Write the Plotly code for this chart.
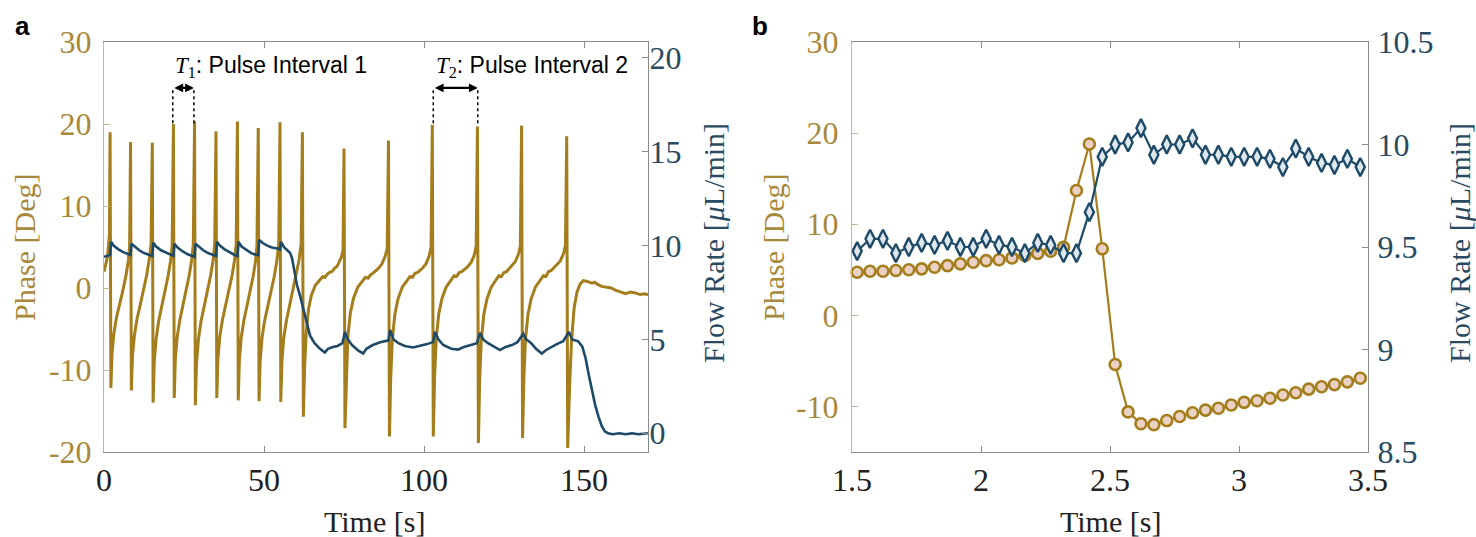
import plotly.graph_objects as go

# ---------------- Panel a data ----------------
time_a_phase = [
    0.0, 0.4, 0.8, 1.2, 1.5, 1.7, 1.9, 2.15,
    2.5, 3.1, 3.9, 4.9, 5.9, 6.9, 7.6, 8.0, 8.3, 8.55,
    8.9, 9.5, 10.3, 11.3, 12.3, 13.3, 14.1, 14.7, 15.1, 15.35,
    15.7, 16.3, 17.1, 18.1, 19.1, 20.0, 20.8, 21.3, 21.7, 21.95,
    22.3, 22.9, 23.7, 24.7, 25.7, 26.6, 27.4, 27.9, 28.3, 28.55,
    28.9, 29.5, 30.3, 31.3, 32.3, 33.3, 34.1, 34.6, 35.0, 35.25,
    35.6, 36.2, 37.0, 38.0, 39.0, 40.0, 40.8, 41.3, 41.7, 41.95,
    42.3, 42.9, 43.7, 44.7, 45.7, 46.6, 47.4, 47.8, 48.2, 48.45,
    48.8, 49.4, 50.2, 51.2, 52.2, 53.2, 54.0, 54.6, 55.0, 55.25,
    55.6, 56.2, 57.0, 58.0, 59.0, 60.0, 60.9, 61.6, 62.0, 62.3,
    62.7, 63.2, 63.9, 64.8, 66.0, 67.5, 68.4, 69.0, 69.8, 70.5, 71.3, 72.0, 72.7, 73.3, 74.2, 74.7, 75.0, 75.3,
    75.7, 76.2, 77.0, 78.0, 79.3, 80.8, 81.7, 82.5, 83.3, 84.0, 85.5, 86.8, 87.8, 88.5, 88.9, 89.2,
    89.6, 90.1, 90.9, 91.9, 93.2, 94.7, 95.6, 96.4, 97.2, 98.0, 99.5, 100.7, 101.6, 102.2, 102.6, 102.9,
    103.3, 103.8, 104.6, 105.6, 106.9, 108.5, 109.4, 110.2, 111.0, 111.8, 113.4, 114.7, 115.7, 116.3, 116.7, 117.0,
    117.4, 117.9, 118.7, 119.7, 121.0, 122.5, 123.4, 124.2, 125.0, 125.8, 127.3, 128.5, 129.5, 130.1, 130.5, 130.8,
    131.2, 131.7, 132.5, 133.5, 134.8, 136.4, 137.3, 138.1, 138.9, 139.7, 141.3, 142.6, 143.6, 144.2, 144.6, 144.9,
    145.5, 146.1, 146.9, 147.8, 148.8, 149.8, 151.0, 152.5, 153.3, 154.0, 155.5, 157.0, 158.5, 160.0, 161.5,
    163.0, 164.5, 166.0, 167.5, 169.0, 170.0,
]
phase_a = [
    2.0, 2.6, 3.3, 4.2, 5.2, 6.5, 19.0, -12.2,
    -8.0, -5.5, -3.6, -2.0, -0.3, 1.6, 3.3, 5.0, 17.8, -12.5,
    -8.2, -5.8, -3.8, -2.1, -0.4, 1.5, 3.4, 5.3, 17.7, -14.0,
    -9.0, -6.2, -4.0, -2.2, -0.5, 1.4, 3.3, 5.2, 20.0, -13.4,
    -8.6, -5.9, -3.9, -2.1, -0.4, 1.5, 3.4, 5.3, 20.3, -14.3,
    -9.2, -6.3, -4.1, -2.3, -0.5, 1.5, 3.4, 5.4, 19.1, -13.4,
    -8.6, -5.9, -3.9, -2.1, -0.4, 1.5, 3.4, 5.3, 20.3, -13.7,
    -8.8, -6.0, -4.0, -2.2, -0.5, 1.4, 3.4, 5.2, 19.5, -13.8,
    -8.9, -6.0, -4.0, -2.2, -0.5, 1.4, 3.3, 5.3, 20.2, -13.9,
    -8.9, -6.0, -4.0, -2.2, -0.5, 1.3, 3.3, 5.4, 19.0, -15.7,
    -9.5, -5.5, -2.6, -0.9, 0.3, 1.0, 1.4, 1.3, 1.7, 1.9, 2.0, 2.4, 2.6, 3.0, 3.8, 4.6, 17.0, -17.1,
    -10.5, -6.0, -3.0, -1.2, 0.1, 0.9, 1.3, 1.2, 1.6, 1.8, 2.3, 2.9, 3.8, 4.8, 18.0, -18.1,
    -11.0, -6.3, -3.2, -1.3, 0.1, 0.9, 1.4, 1.3, 1.8, 1.9, 2.4, 3.0, 3.9, 5.0, 19.9, -18.1,
    -11.0, -6.3, -3.2, -1.3, 0.1, 1.0, 1.5, 1.4, 1.9, 2.0, 2.5, 3.1, 4.0, 5.1, 19.7, -18.9,
    -11.2, -6.4, -3.2, -1.3, 0.1, 1.0, 1.5, 1.4, 1.9, 2.0, 2.6, 3.2, 4.1, 5.1, 19.8, -18.3,
    -11.0, -6.3, -3.2, -1.3, 0.1, 1.0, 1.5, 1.4, 2.0, 2.1, 2.7, 3.3, 4.2, 5.2, 18.5, -19.5,
    -12.0, -6.5, -2.5, -0.5, 0.5, 0.9, 0.8, 0.6, 0.7, 0.5, 0.2, 0.1, 0.0, -0.3, -0.5,
    -0.7, -0.5, -0.6, -0.8, -0.7, -0.85,
]

time_a_flow = [
    0.0, 1.0, 1.9, 2.2, 3.0, 4.5, 6.0, 7.5,
    8.3, 8.6, 9.5, 11.0, 12.5, 14.2,
    15.1, 15.4, 16.3, 17.8, 19.5, 21.0,
    21.7, 22.0, 23.0, 24.5, 26.0, 27.6,
    28.3, 28.6, 29.5, 31.0, 32.5, 34.2,
    35.0, 35.3, 36.2, 37.7, 39.2, 40.8,
    41.7, 42.0, 43.0, 44.5, 46.0, 47.5,
    48.2, 48.5, 49.5, 51.0, 52.5, 54.2,
    55.0, 55.3, 56.3, 57.3, 58.2, 58.8, 59.5, 60.3, 61.3, 62.3, 63.3, 64.4, 65.8, 67.5, 69.0,
    70.0, 71.5, 73.0, 74.5, 75.3, 76.2, 77.5, 79.5, 81.0, 82.0, 84.0, 86.3, 88.9,
    89.4, 90.5, 92.0, 94.0, 96.6, 99.0, 101.0, 102.9,
    103.4, 104.5, 106.0, 108.5, 110.7, 112.5, 114.5, 116.5,
    117.5, 118.5, 120.0, 122.0, 123.75, 125.5, 127.5, 129.2,
    131.0, 132.0, 133.5, 135.0, 136.8, 138.3, 139.8, 141.5, 143.5,
    145.3, 146.3, 148.2, 149.5, 150.5, 151.5, 152.5, 153.5, 154.5, 155.5, 156.5, 157.5,
    159.0, 161.0, 163.0, 165.0, 167.0, 170.0,
]
flow_a = [
    9.4, 9.45, 9.5, 10.2, 10.0, 9.8, 9.65, 9.55,
    9.5, 10.1, 9.95, 9.75, 9.6, 9.5,
    9.45, 10.15, 9.95, 9.75, 9.6, 9.5,
    9.45, 10.1, 9.9, 9.7, 9.55, 9.45,
    9.4, 10.1, 9.95, 9.75, 9.6, 9.5,
    9.45, 10.2, 10.0, 9.8, 9.65, 9.5,
    9.45, 10.2, 9.95, 9.75, 9.6, 9.5,
    9.5, 10.3, 10.15, 10.0, 9.9, 9.85,
    9.8, 10.2, 9.9, 9.75, 9.6, 9.3, 8.6, 7.9, 7.3, 6.6, 5.9, 5.2, 4.8, 4.5, 4.3,
    4.5, 4.6, 4.65, 4.8, 5.4, 5.0, 4.7, 4.4, 4.25, 4.5, 4.7, 4.85, 4.95,
    5.5, 5.0, 4.8, 4.65, 4.57, 4.65, 4.75, 4.87,
    5.4, 5.0, 4.7, 4.5, 4.46, 4.6, 4.7, 4.8,
    5.35, 5.0, 4.8, 4.6, 4.43, 4.6, 4.7, 4.85,
    5.3, 5.0, 4.8, 4.5, 4.25, 4.45, 4.6, 4.75, 4.9,
    5.4, 5.0, 4.9, 4.6, 4.0, 3.1, 2.3, 1.5, 0.9, 0.4, 0.1, 0.0,
    -0.05, 0.0, -0.05, 0.0, -0.05, 0.0,
]

# ---------------- Panel b data ----------------
time_b = [
    1.52, 1.57, 1.62, 1.67, 1.72, 1.77, 1.82, 1.87, 1.92, 1.97,
    2.02, 2.07, 2.12, 2.17, 2.22, 2.27, 2.32, 2.37, 2.42, 2.47,
    2.52, 2.57, 2.62, 2.67, 2.72, 2.77, 2.82, 2.87, 2.92, 2.97,
    3.02, 3.07, 3.12, 3.17, 3.22, 3.27, 3.32, 3.37, 3.42, 3.47,
]
phase_b = [
    4.73, 4.84, 4.84, 4.92, 5.0, 5.1, 5.28, 5.46, 5.65, 5.83,
    6.0, 6.1, 6.3, 6.56, 6.8, 7.03, 7.46, 13.7, 18.8, 7.3,
    -5.4, -10.6, -11.9, -12.0, -11.55, -11.1, -10.7, -10.4, -10.2, -9.84,
    -9.55, -9.37, -9.1, -8.74, -8.5, -8.1, -7.84, -7.6, -7.3, -6.9,
]
flow_b = [
    9.48, 9.54, 9.54, 9.47, 9.50, 9.52, 9.51, 9.53, 9.50, 9.50,
    9.54, 9.51, 9.50, 9.47, 9.52, 9.51, 9.47, 9.47, 9.67, 9.94,
    10.0, 10.01, 10.08, 9.95, 10.0, 10.0, 10.03, 9.95, 9.95, 9.94,
    9.94, 9.94, 9.93, 9.89, 9.98, 9.94, 9.91, 9.90, 9.93, 9.89,
]

# ---------------- Tick labels ----------------
xa_ticks = [0, 50, 100, 150]
xa_labels = ["0", "50", "100", "150"]
ya_ticks = [-20, -10, 0, 10, 20, 30]
ya_labels = ["-20", "-10", "0", "10", "20", "30"]
ya2_ticks = [0, 5, 10, 15, 20]
ya2_labels = ["0", "5", "10", "15", "20"]
xb_ticks = [1.5, 2, 2.5, 3, 3.5]
xb_labels = ["1.5", "2", "2.5", "3", "3.5"]
yb_ticks = [-10, 0, 10, 20, 30]
yb_labels = ["-10", "0", "10", "20", "30"]
yb2_ticks = [8.5, 9, 9.5, 10, 10.5]
yb2_labels = ["8.5", "9", "9.5", "10", "10.5"]

# interval markers (pulse peaks) for annotations
t1_pulses = [21.5, 28.1]
t2_pulses = [102.9, 116.8]

GOLD = "#A47D1C"
BLUE = "#1E4A68"
GOLD_TXT = "#A8883A"
BLUE_TXT = "#2A4A62"
SERIF = "Liberation Serif"

W, H = 1476, 537


def px(x):
    return x / W


def py(y):
    return 1 - y / H


fig = go.Figure()
fig.add_trace(go.Scatter(x=time_a_phase, y=phase_a, mode="lines",
                         line=dict(color=GOLD, width=3), xaxis="x", yaxis="y",
                         showlegend=False))
fig.add_trace(go.Scatter(x=time_a_flow, y=flow_a, mode="lines",
                         line=dict(color=BLUE, width=2.6), xaxis="x", yaxis="y2",
                         showlegend=False))
fig.add_trace(go.Scatter(x=time_b, y=phase_b, mode="lines+markers",
                         line=dict(color=GOLD, width=2.2),
                         marker=dict(symbol="circle", size=11, color="#EBD0C4",
                                     line=dict(color=GOLD, width=2.6)),
                         xaxis="x2", yaxis="y3", showlegend=False, cliponaxis=False))
fig.add_trace(go.Scatter(x=time_b, y=flow_b, mode="lines+markers",
                         line=dict(color=BLUE, width=2.2),
                         marker=dict(symbol="diamond-tall", size=13, color="#DDE7EE",
                                     line=dict(color=BLUE, width=2.4)),
                         xaxis="x2", yaxis="y4", showlegend=False, cliponaxis=False))

ydom = [py(452), py(42)]
TICK = 32
tickfont_x = dict(family=SERIF, size=TICK, color="#222222")
common_x = dict(showgrid=False, zeroline=False, showline=True, linecolor="#8a8a8a",
                linewidth=1, mirror="ticks", ticks="inside", ticklen=6, tickcolor="#8a8a8a",
                tickfont=tickfont_x, automargin=False, ticklabelstandoff=0)


def left_axis(rng, tv, tt, anchor, standoff):
    return dict(domain=ydom, range=rng, anchor=anchor, side="left",
                tickvals=tv, ticktext=tt, showgrid=False, zeroline=False,
                showline=True, linecolor="#c2b78e", linewidth=1, ticks="inside", ticklen=6,
                tickcolor="#c2b78e", tickfont=dict(family=SERIF, size=TICK, color=GOLD_TXT),
                automargin=False, ticklabelstandoff=standoff)


def right_axis(rng, tv, tt, over, anchor, standoff):
    return dict(range=rng, overlaying=over, anchor=anchor, side="right",
                tickvals=tv, ticktext=tt, showgrid=False, zeroline=False,
                showline=True, linecolor="#8a8a8a", linewidth=1, ticks="inside", ticklen=6,
                tickcolor="#8a8a8a", tickfont=dict(family=SERIF, size=TICK, color=BLUE_TXT),
                automargin=False, ticklabelstandoff=standoff)


fig.update_layout(
    width=W, height=H, margin=dict(l=0, r=0, t=0, b=0),
    paper_bgcolor="white", plot_bgcolor="white",
    xaxis=dict(domain=[px(104), px(648)], range=[0, 170], anchor="y",
               tickvals=xa_ticks, ticktext=xa_labels, **common_x),
    yaxis=left_axis([-20, 30], ya_ticks, ya_labels, "x", 5),
    yaxis2=right_axis([-1, 20.85], ya2_ticks, ya2_labels, "y", "x", -6),
    xaxis2=dict(domain=[px(852), px(1368)], range=[1.5, 3.5], anchor="y3",
                tickvals=xb_ticks, ticktext=xb_labels, **common_x),
    yaxis3=left_axis([-15, 30], yb_ticks, yb_labels, "x2", 6),
    yaxis4=right_axis([8.5, 10.5], yb2_ticks, yb2_labels, "y3", "x2", 2),
)

ann = []
TITLE = 30
# axis titles
for cx in (374, 1110):
    ann.append(dict(x=px(cx), y=py(521), xref="paper", yref="paper", text="Time [s]",
                    xanchor="center", yanchor="middle", showarrow=False,
                    font=dict(family=SERIF, size=TITLE, color="#222222")))
for cx in (25, 774):
    ann.append(dict(x=px(cx), y=py(248), xref="paper", yref="paper", text="Phase [Deg]",
                    xanchor="center", yanchor="middle", textangle=-90, showarrow=False,
                    font=dict(family=SERIF, size=TITLE, color=GOLD_TXT)))
for cx in (713, 1459):
    ann.append(dict(x=px(cx), y=py(243), xref="paper", yref="paper",
                    text="Flow Rate [<i>μ</i>L/min]", xanchor="center", yanchor="middle",
                    textangle=-90, showarrow=False,
                    font=dict(family=SERIF, size=TITLE, color=BLUE_TXT)))
# panel letters
for cx, lab in ((22, "a"), (760, "b")):
    ann.append(dict(x=px(cx), y=py(26), xref="paper", yref="paper", text="<b>" + lab + "</b>",
                    xanchor="center", yanchor="middle", showarrow=False,
                    font=dict(family="Liberation Sans", size=26, color="black")))

# pulse interval annotations
shapes = []
TSPAN = '<span style="font-family:Liberation Serif"><i>T</i><sub>{}</sub></span>'
for (p0, p1), k in ((t1_pulses, "1"), (t2_pulses, "2")):
    lab = TSPAN.format(k) + ": Pulse Interval " + k
    for p in (p0, p1):
        shapes.append(dict(type="line", xref="x", yref="y", x0=p, x1=p, y0=20.1, y1=24.3,
                           line=dict(color="black", width=1.5, dash="dot")))
    ann.append(dict(x=p1, y=24.4, ax=p0, ay=24.4, xref="x", yref="y", axref="x", ayref="y",
                    text="", showarrow=True, arrowhead=2, arrowside="end+start",
                    arrowsize=0.8, arrowwidth=2.2, arrowcolor="black"))
    ann.append(dict(x=p0 + 0.2, y=27.0, xref="x", yref="y", text=lab, xanchor="left",
                    yanchor="middle", showarrow=False,
                    font=dict(family="Liberation Sans", size=23, color="black")))

fig.update_layout(annotations=ann, shapes=shapes)
# remove the default 8px page margin so the figure fills the window exactly
fig.write_html("out.html", config={"displayModeBar": False},
               post_script="document.body.style.margin='0px';"
                           "document.documentElement.style.overflow='hidden';")
